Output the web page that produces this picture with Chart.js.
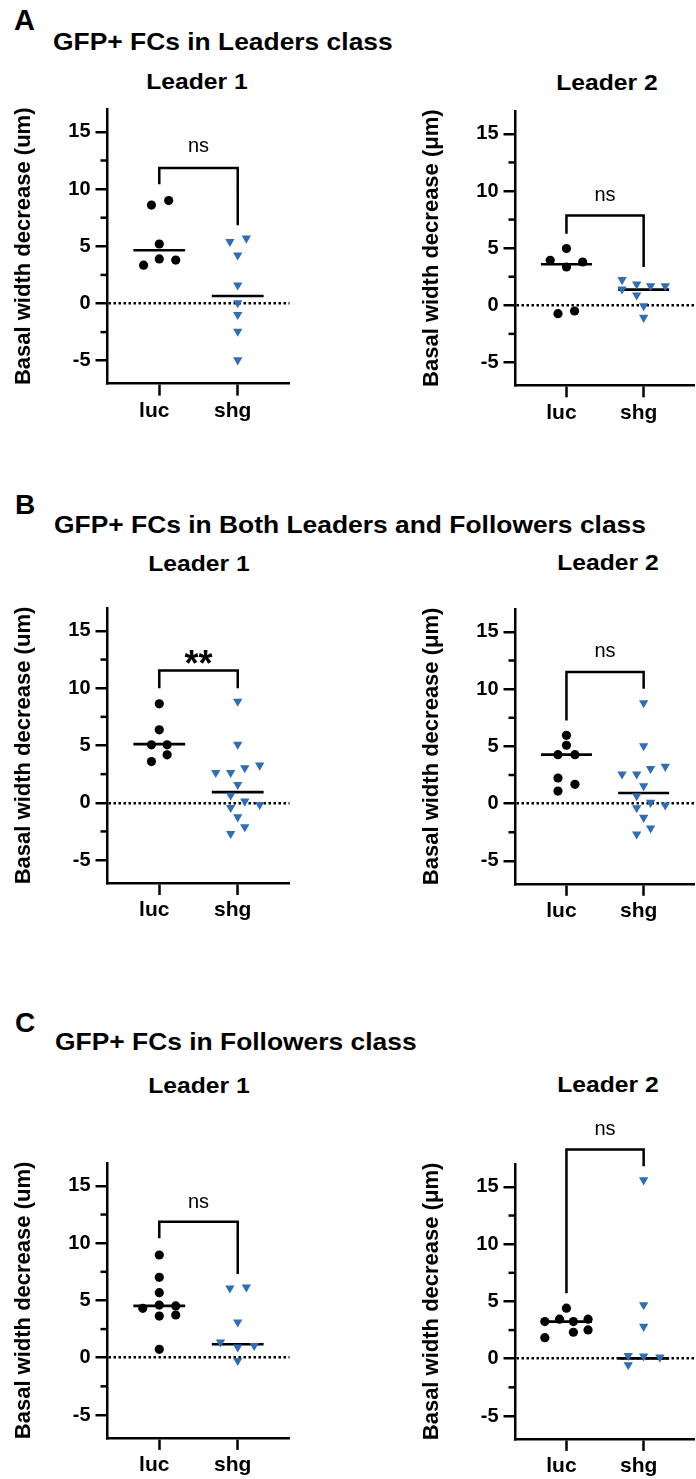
<!DOCTYPE html>
<html>
<head>
<meta charset="utf-8">
<script src="https://cdn.jsdelivr.net/npm/chart.js@4.4.0/dist/chart.umd.min.js"></script>
<style>
html, body { margin: 0; padding: 0; background: #fff; width: 696px; height: 1479px; overflow: hidden; }
body { position: relative; font-family: "Liberation Sans", Arial, sans-serif; color: #000; }
.letter { position: absolute; font-weight: bold; line-height: 1; }
.cls { position: absolute; font-weight: bold; font-size: 24px; line-height: 1; white-space: nowrap; transform: scaleX(1.1); transform-origin: left top; }
.sub { position: absolute; width: 200px; text-align: center; font-weight: bold; font-size: 22px; line-height: 1; white-space: nowrap; transform: scaleX(1.12); }
canvas { position: absolute; }
</style>
</head>
<body>
<div class="letter" style="left:14px; top:6px; font-size:29px;">A</div>
<div class="cls" style="left:53px; top:30px;">GFP+ FCs in Leaders class</div>
<div class="sub" style="left:97px; top:71px;">Leader 1</div>
<div class="sub" style="left:507px; top:72px;">Leader 2</div>

<div class="letter" style="left:15px; top:491px; font-size:28px;">B</div>
<div class="cls" style="left:54px; top:513px;">GFP+ FCs in Both Leaders and Followers class</div>
<div class="sub" style="left:99px; top:553px;">Leader 1</div>
<div class="sub" style="left:508px; top:552px;">Leader 2</div>

<div class="letter" style="left:15px; top:1009px; font-size:28px;">C</div>
<div class="cls" style="left:55px; top:1030px;">GFP+ FCs in Followers class</div>
<div class="sub" style="left:99px; top:1075px;">Leader 1</div>
<div class="sub" style="left:508px; top:1074px;">Leader 2</div>

<canvas id="a1"></canvas>
<canvas id="a2"></canvas>
<canvas id="b1"></canvas>
<canvas id="b2"></canvas>
<canvas id="c1"></canvas>
<canvas id="c2"></canvas>

<script>
// Categories and axis ticks
const groups = ['luc', 'shg'];
const groupPos = [1, 2];
const yMajorTicks = [-5, 0, 5, 10, 15];
const yMinorTicks = [-2.5, 2.5, 7.5, 12.5];
const yRange = [-7, 17];
const xRange = [0.34, 2.66];

// A - Leaders class, Leader 1
const aL1LucX = [0.90, 1.12, 1.0, 1.0, 1.21, 0.80];
const aL1LucY = [8.6, 9.0, 5.2, 3.9, 3.8, 3.35];
const aL1ShgX = [1.90, 2.11, 2.0, 2.0, 2.0, 2.0, 2.0, 2.0];
const aL1ShgY = [5.4, 5.7, 4.23, 1.6, 0.05, -0.98, -2.44, -4.94];
const aL1Median = [4.66, 0.66];
const aL1Bracket = [10.43, 11.85, 6.84, 13.2]; // left end, top, right end, label baseline

// A - Leaders class, Leader 2
const aL2LucX = [1.0, 0.79, 1.21, 1.0, 0.89, 1.105];
const aL2LucY = [4.96, 3.94, 3.79, 3.35, -0.73, -0.5];
const aL2ShgX = [1.72, 1.72, 1.91, 1.91, 2.09, 2.28, 2.0, 2.0];
const aL2ShgY = [2.23, 1.41, 1.85, 0.89, 1.7, 1.7, -0.05, -1.07];
const aL2Median = [3.59, 1.37];
const aL2Bracket = [6.27, 7.85, 3.35, 9.12];

// B - Both Leaders and Followers class, Leader 1
const bL1LucX = [1.0, 1.0, 0.9, 1.1, 1.1, 0.9];
const bL1LucY = [8.64, 6.37, 5.06, 5.06, 4.19, 3.6];
const bL1ShgX = [2.0, 2.0, 1.72, 1.91, 2.09, 2.28, 2.0, 1.91, 2.09, 2.28, 1.91, 2.0, 2.09, 1.91];
const bL1ShgY = [8.85, 5.1, 2.63, 2.63, 3.04, 3.27, 1.58, 0.65, 0.13, -0.16, -0.42, -1.24, -2.11, -2.69];
const bL1Median = [5.12, 0.93];
const bL1Bracket = [10.0, 11.55, 10.0, 11.1];

// B - Both Leaders and Followers class, Leader 2
const bL2LucX = [1.0, 1.0, 0.89, 1.11, 0.89, 1.11, 0.89];
const bL2LucY = [5.97, 5.1, 4.28, 4.28, 2.24, 1.69, 1.1];
const bL2ShgX = [2.0, 2.0, 1.72, 1.91, 2.09, 2.28, 2.0, 1.91, 2.09, 2.28, 1.91, 2.0, 2.09, 1.91];
const bL2ShgY = [8.8, 5.04, 2.57, 2.57, 3.06, 3.24, 1.55, 0.68, 0.1, -0.13, -0.37, -1.21, -2.14, -2.66];
const bL2Median = [4.28, 0.93];
const bL2Bracket = [7.27, 11.5, 10.03, 12.8];

// C - Followers class, Leader 1
const cL1LucX = [1.0, 1.0, 1.0, 0.79, 1.0, 1.21, 1.0, 1.21, 1.0];
const cL1LucY = [8.97, 7.02, 5.68, 4.31, 4.6, 4.52, 3.64, 3.73, 0.73];
const cL1ShgX = [1.9, 2.11, 2.0, 1.78, 2.0, 2.21, 2.0];
const cL1ShgY = [6.07, 6.16, 3.1, 1.36, 0.92, 1.06, -0.25];
const cL1Median = [4.53, 1.17];
const cL1Bracket = [10.43, 11.88, 7.31, 13.1];

// C - Followers class, Leader 2
const cL2LucX = [1.0, 0.72, 0.91, 1.09, 1.28, 1.09, 1.28, 0.72];
const cL2LucY = [4.41, 3.24, 3.45, 3.24, 3.45, 2.31, 2.51, 1.84];
const cL2ShgX = [2.0, 2.0, 2.0, 1.8, 2.0, 2.21, 1.8];
const cL2ShgY = [15.6, 4.7, 2.81, 0.27, 0.22, 0.13, -0.54];
const cL2Median = [3.24, 0.03];
const cL2Bracket = [5.72, 18.26, 16.8, 19.54];

const BLUE = '#2f6db5';
const MEDIAN_HALF = 0.33;
const FONT = '"Liberation Sans", Arial, sans-serif';

// Minor ticks on the y axis (shorter than major ones)
const minorTicks = {
    id: 'minorTicks',
    afterDraw(chart) {
        const y = chart.scales.y;
        const ctx = chart.ctx;
        ctx.save();
        ctx.strokeStyle = '#000';
        ctx.lineWidth = 2.5;
        yMinorTicks.forEach(v => {
            const py = y.getPixelForValue(v);
            ctx.beginPath();
            ctx.moveTo(y.right - 7, py);
            ctx.lineTo(y.right, py);
            ctx.stroke();
        });
        ctx.restore();
    }
};

// Significance bracket between the two groups
const sigBracket = {
    id: 'sigBracket',
    afterDatasetsDraw(chart, args, opts) {
        const { x, y } = chart.scales;
        const ctx = chart.ctx;
        const x1 = x.getPixelForValue(groupPos[0]);
        const x2 = x.getPixelForValue(groupPos[1]);
        const yt = y.getPixelForValue(opts.values[1]);
        ctx.save();
        ctx.strokeStyle = '#000';
        ctx.lineWidth = 2.5;
        ctx.lineJoin = 'miter';
        ctx.beginPath();
        ctx.moveTo(x1, y.getPixelForValue(opts.values[0]));
        ctx.lineTo(x1, yt);
        ctx.lineTo(x2, yt);
        ctx.lineTo(x2, y.getPixelForValue(opts.values[2]));
        ctx.stroke();
        ctx.fillStyle = '#000';
        ctx.font = opts.font;
        ctx.textAlign = 'center';
        ctx.textBaseline = 'alphabetic';
        ctx.fillText(opts.label, (x1 + x2) / 2, y.getPixelForValue(opts.values[3]));
        ctx.restore();
    }
};

const panels = [
    { id: 'a1', left: 0, top: 108.8, bottom: 383.4, unit: 'um', luc: [aL1LucX, aL1LucY], shg: [aL1ShgX, aL1ShgY], median: aL1Median, bracket: aL1Bracket, label: 'ns' },
    { id: 'a2', left: 400, top: 110.7, bottom: 385, unit: 'μm', luc: [aL2LucX, aL2LucY], shg: [aL2ShgX, aL2ShgY], median: aL2Median, bracket: aL2Bracket, label: 'ns' },
    { id: 'b1', left: 0, top: 608.2, bottom: 883.2, unit: 'um', luc: [bL1LucX, bL1LucY], shg: [bL1ShgX, bL1ShgY], median: bL1Median, bracket: bL1Bracket, label: '**' },
    { id: 'b2', left: 400, top: 608.7, bottom: 883.5, unit: 'μm', luc: [bL2LucX, bL2LucY], shg: [bL2ShgX, bL2ShgY], median: bL2Median, bracket: bL2Bracket, label: 'ns' },
    { id: 'c1', left: 0, top: 1163, bottom: 1437.9, unit: 'um', luc: [cL1LucX, cL1LucY], shg: [cL1ShgX, cL1ShgY], median: cL1Median, bracket: cL1Bracket, label: 'ns' },
    { id: 'c2', left: 400, top: 1164, bottom: 1438.9, unit: 'μm', luc: [cL2LucX, cL2LucY], shg: [cL2ShgX, cL2ShgY], median: cL2Median, bracket: cL2Bracket, label: 'ns' }
];

function toPoints(xs, ys) {
    return xs.map((x, i) => ({ x: x, y: ys[i] }));
}

function medianLine(pos, value) {
    return [{ x: pos - MEDIAN_HALF, y: value }, { x: pos + MEDIAN_HALF, y: value }];
}

function makeChart(p) {
    const canvas = document.getElementById(p.id);
    const isLeft = p.left === 0;
    const areaLeft = isLeft ? 107.5 : 515.5;
    const width = 300;
    const canvasTop = p.top - 62;
    const height = Math.round(p.bottom + 46 - canvasTop);
    canvas.width = width;
    canvas.height = height;
    canvas.style.left = p.left + 'px';
    canvas.style.top = canvasTop + 'px';
    canvas.style.width = width + 'px';
    canvas.style.height = height + 'px';

    const yWidth = areaLeft - p.left;
    const xHeight = canvasTop + height - p.bottom;
    const padRight = p.left + width - (areaLeft + 182);

    new Chart(canvas, {
        type: 'scatter',
        data: {
            datasets: [
                {
                    data: toPoints(p.luc[0], p.luc[1]),
                    pointStyle: 'circle',
                    pointRadius: 4.6,
                    backgroundColor: '#000',
                    borderWidth: 0
                },
                {
                    data: toPoints(p.shg[0], p.shg[1]),
                    pointStyle: 'triangle',
                    rotation: 180,
                    pointRadius: 5.4,
                    backgroundColor: BLUE,
                    borderWidth: 0
                },
                {
                    data: medianLine(groupPos[0], p.median[0]),
                    showLine: true,
                    borderColor: '#000',
                    borderWidth: 2.6,
                    pointRadius: 0
                },
                {
                    data: medianLine(groupPos[1], p.median[1]),
                    showLine: true,
                    borderColor: '#000',
                    borderWidth: 2.6,
                    pointRadius: 0
                }
            ]
        },
        options: {
            responsive: false,
            animation: false,
            devicePixelRatio: 1,
            events: [],
            layout: { padding: { left: 0, top: p.top - canvasTop, right: padRight, bottom: 0 } },
            plugins: {
                legend: { display: false },
                tooltip: { enabled: false },
                sigBracket: {
                    values: p.bracket,
                    label: p.label,
                    font: p.label === '**' ? 'bold 36px ' + FONT : '20px ' + FONT
                }
            },
            scales: {
                x: {
                    type: 'linear',
                    min: xRange[0],
                    max: xRange[1],
                    afterBuildTicks: (scale) => { scale.ticks = groupPos.map(v => ({ value: v })); },
                    afterFit: (scale) => { scale.height = xHeight; },
                    ticks: {
                        callback: (v) => groups[groupPos.indexOf(v)],
                        color: '#000',
                        font: { family: FONT, size: 21, weight: 'bold' },
                        padding: 3,
                        labelOffset: -5,
                        maxRotation: 0
                    },
                    grid: { drawOnChartArea: false, drawTicks: true, tickLength: 12, tickColor: '#000', tickWidth: 2.5 },
                    border: { display: true, color: '#000', width: 2.5 }
                },
                y: {
                    type: 'linear',
                    min: yRange[0],
                    max: yRange[1],
                    afterBuildTicks: (scale) => { scale.ticks = yMajorTicks.map(v => ({ value: v })); },
                    afterFit: (scale) => { scale.width = yWidth; },
                    ticks: {
                        color: '#000',
                        font: { family: FONT, size: 20, weight: 'bold' },
                        padding: 5
                    },
                    grid: {
                        drawOnChartArea: true,
                        color: (ctx) => (ctx.tick && ctx.tick.value === 0 ? '#000' : 'rgba(0,0,0,0)'),
                        lineWidth: 2.5,
                        tickLength: 12,
                        tickColor: '#000',
                        tickWidth: 2.5
                    },
                    border: { display: true, color: '#000', width: 2.5, dash: [2.5, 2.5] },
                    title: {
                        display: true,
                        text: 'Basal width decrease (' + p.unit + ')',
                        color: '#000',
                        font: { family: FONT, size: 22, weight: 'bold' },
                        padding: { top: isLeft ? 10.8 : 18.8, bottom: 0 }
                    }
                }
            }
        },
        plugins: [minorTicks, sigBracket]
    });
}

panels.forEach(makeChart);
</script>
</body>
</html>
